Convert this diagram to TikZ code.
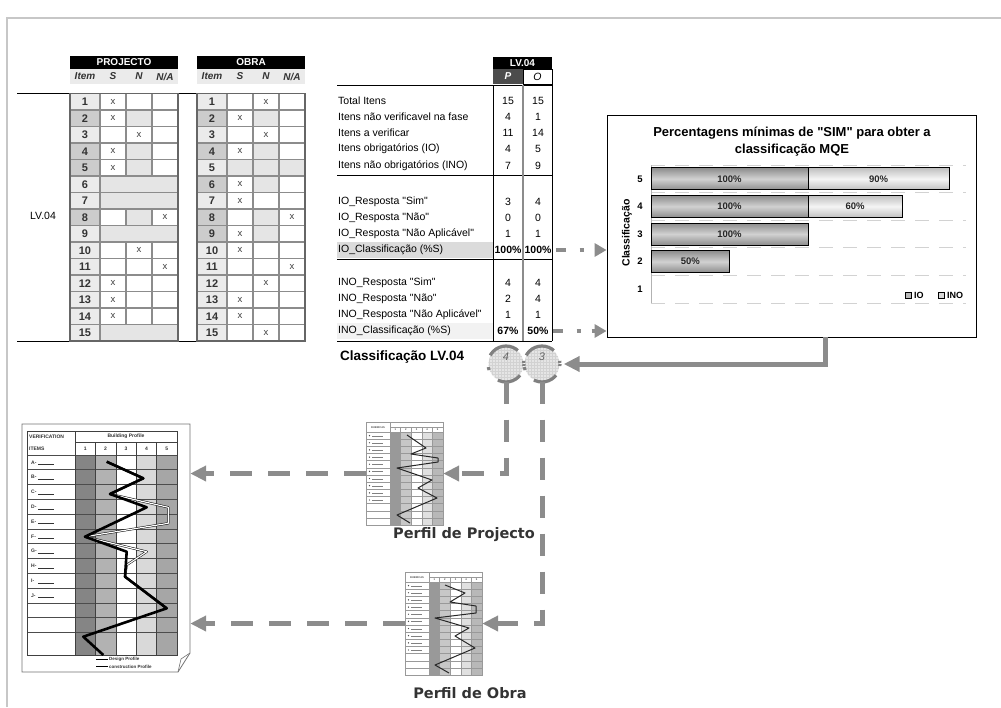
\documentclass[tikz,border=0pt]{standalone}
\usepackage{fontspec}
\setmainfont{Liberation Sans}
\newfontfamily\perfilfont{DejaVu Sans}
\usetikzlibrary{arrows.meta,patterns}

\definecolor{framegray}{gray}{0.78}
\definecolor{linegray}{gray}{0.55}
\definecolor{cellgray}{gray}{0.9}
\definecolor{itemlite}{gray}{0.92}
\definecolor{itemdark}{gray}{0.8}
\definecolor{conngray}{gray}{0.55}

\begin{document}
\begin{tikzpicture}[x=1pt,y=-1pt,
    txt/.style={inner sep=0pt, font=\fontsize{10.5}{12}\selectfont},
    headtext/.style={inner sep=0pt, text=white, font=\fontsize{10}{12}\selectfont\bfseries},
    colhead/.style={inner sep=0pt, text=black!80, font=\fontsize{10}{12}\selectfont\bfseries\itshape},
    cell/.style={draw=linegray, line width=1.8pt},
    itemnum/.style={inner sep=0pt, text=black!80, font=\fontsize{11}{12}\selectfont\bfseries},
    xmark/.style={inner sep=0pt, text=black!75, font=\fontsize{9.5}{11}\selectfont},
    boldnum/.style={inner sep=0pt, font=\fontsize{10.5}{12}\selectfont\bfseries},
    circ/.style={circle, minimum size=35pt, inner sep=0pt, fill=gray!20, postaction={pattern=grid, pattern color=gray!35}},
    ring/.style={draw=black!50, line width=3.2pt, dash pattern=on 2pt off 10.2pt on 24.4pt off 13.7pt on 3pt off 12.2pt on 32.1pt off 12.2pt},
    ringnum/.style={inner sep=0pt, text=black!60, font=\fontsize{11}{12}\selectfont\itshape},
    grid/.style={draw=gray!35, line width=0.8pt, dash pattern=on 14pt off 10pt},
    catlab/.style={inner sep=0pt, font=\fontsize{9.5}{11}\selectfont\bfseries},
    barlab/.style={inner sep=0pt, font=\fontsize{9.5}{11}\selectfont\bfseries, text=black!85},
    iobar/.style={draw=black, line width=0.7pt, top color=black!45, bottom color=black!45, middle color=black!18},
    inobar/.style={draw=black, line width=0.7pt, top color=black!25, bottom color=black!25, middle color=black!4},
    dashconn/.style={draw=conngray, line width=5pt, dash pattern=on 22pt off 16pt, -{Triangle[length=16pt,width=15pt]}},
    dotconn/.style={draw=conngray, line width=4pt, dash pattern=on 10pt off 14pt on 4pt off 11pt, -{Triangle[length=12pt,width=13pt]}},
    solidconn/.style={draw=conngray, line width=5pt, -{Triangle[length=16pt,width=15pt]}},
    imgbox/.style={inner sep=0pt},
    tinytext/.style={inner sep=0pt, font=\fontsize{5}{5}\selectfont\bfseries, text=black!80},
    microtext/.style={inner sep=0pt, font=\fontsize{2.6}{3}\selectfont\bfseries, text=black!70},
    perfil/.style={inner sep=0pt, text=black!80, font=\perfilfont\fontsize{14.5}{16}\selectfont\bfseries}
  ]
  \useasboundingbox (0,0) rectangle (1001,707);
  \draw[framegray, line width=1.5pt] (7,707) -- (7,18) -- (1001,18);

  % check lists
  \draw[line width=1pt] (17,93) -- (306,93);
  \draw[line width=1.8pt] (17,341.5) -- (306,341.5);
  \node[txt] (lv) at (43,216) {LV.04};
  \foreach \t/\lab in {0/PROJECTO, 127/OBRA} {
    \fill[black] (\t+70,56) rectangle (\t+178,69);
    \node[headtext] (head-\lab) at (\t+124,62.5) {\lab};
    \fill[itemlite] (\t+70,69) rectangle (\t+178,84);
    \node[colhead] (item-\lab) at (\t+85,76.5) {Item};
    \node[colhead] (s-\lab) at (\t+113,76.5) {S};
    \node[colhead] (n-\lab) at (\t+139,76.5) {N};
    \node[colhead] (na-\lab) at (\t+165,76.5) {N/A};
    \foreach \r in {1,...,15} {
      \filldraw[cell, fill=itemlite] (\t+70,77+16.5*\r) rectangle ++(30,16.5);
      \foreach \c in {0,1,2}
        \filldraw[cell, fill=white] (\t+100+26*\c,77+16.5*\r) rectangle ++(26,16.5);
    }
  }
  \foreach \t/\r in {0/2,0/4,0/5,0/8,127/2,127/4,127/6,127/8,127/9}
    \filldraw[cell, fill=itemdark] (\t+70,77+16.5*\r) rectangle ++(30,16.5);
  \foreach \t/\r/\c in {0/2/1,0/4/1,0/5/1,0/8/1,127/2/1,127/4/1,127/5/0,127/5/1,127/5/2,127/6/1,127/8/1,127/9/1}
    \filldraw[cell, fill=cellgray] (\t+100+26*\c,77+16.5*\r) rectangle ++(26,16.5);
  \foreach \r in {6,7,9,15}
    \filldraw[cell, fill=cellgray] (100,77+16.5*\r) rectangle ++(78,16.5);
  \foreach \t in {0,127} {
    \draw[black!60, line width=1.5pt] (\t+70,93.5) rectangle (\t+178,341);
    \foreach \r in {1,...,15}
      \node[itemnum] (nr\t-\r) at (\t+85,85.25+16.5*\r) {\r};
  }
  \foreach \t/\r/\c in {0/1/0,0/2/0,0/3/1,0/4/0,0/5/0,0/8/2,0/10/1,0/11/2,0/12/0,0/13/0,0/14/0,
      127/1/1,127/2/0,127/3/1,127/4/0,127/6/0,127/7/0,127/8/2,127/9/0,127/10/0,127/11/2,127/12/1,127/13/0,127/14/0,127/15/1}
    \node[xmark] (x\t-\r) at (\t+113+26*\c,85.25+16.5*\r) {x};

  % LV.04 summary
  \fill[black] (493,57) rectangle (552,69);
  \node[headtext] (lvhead) at (522.5,63) {LV.04};
  \fill[black!70] (493,69) rectangle (523,84);
  \node[colhead, text=white] (colP) at (508,76.5) {P};
  \draw (523,69) rectangle (552,84);
  \node[txt, font=\fontsize{10.5}{12}\selectfont\itshape] (colO) at (537.5,76.5) {O};
  \fill[gray!28] (337,242) rectangle (493,258);
  \fill[gray!10] (337,323) rectangle (493,339);
  \foreach \y in {85,175,259,341}
    \draw[line width=0.8pt] (337,\y) -- (552,\y);
  \draw[line width=0.8pt] (493,85) -- (493,341);
  \draw[linegray, line width=1.8pt] (523,85) -- (523,341);
  \draw[line width=0.8pt] (552,85) -- (552,341);
  \foreach \y/\lab/\p/\o in {101/Total Itens/15/15,
      117/Itens não verificavel na fase/4/1,
      133/Itens a verificar/11/14,
      149/Itens obrigatórios (IO)/4/5,
      166/Itens não obrigatórios (INO)/7/9,
      202/IO\_Resposta \textquotedbl Sim\textquotedbl/3/4,
      218/IO\_Resposta \textquotedbl Não\textquotedbl/0/0,
      234/IO\_Resposta \textquotedbl Não Aplicável\textquotedbl/1/1,
      283/INO\_Resposta \textquotedbl Sim\textquotedbl/4/4,
      299/INO\_Resposta \textquotedbl Não\textquotedbl/2/4,
      315/INO\_Resposta \textquotedbl Não Aplicável\textquotedbl/1/1} {
    \node[txt, anchor=west] (lab\y) at (338,\y) {\lab};
    \node[txt] (p\y) at (508,\y) {\p};
    \node[txt] (o\y) at (538,\y) {\o};
  }
  \node[txt, anchor=west] (iolab) at (338,250) {IO\_Classificação (\%S)};
  \node[boldnum] (ioP) at (508,250) {100\%};
  \node[boldnum] (ioO) at (538,250) {100\%};
  \node[txt, anchor=west] (inolab) at (338,331) {INO\_Classificação (\%S)};
  \node[boldnum] (inoP) at (508,331) {67\%};
  \node[boldnum] (inoO) at (538,331) {50\%};
  \node[inner sep=0pt, anchor=west, font=\fontsize{13.5}{15}\selectfont\bfseries] (classlv) at (340,357) {Classificação LV.04};

  \node[circ] (c4) at (506,364) {};
  \node[circ] (c3) at (542,364) {};
  \draw[ring] (c4.center) circle (18);
  \draw[ring] (c3.center) circle (18);
  \node[ringnum] (n4) at (506,357) {4};
  \node[ringnum] (n3) at (542,357) {3};

  % chart
  \node[draw=black, line width=0.8pt, minimum width=369pt, minimum height=222pt, inner sep=0pt] (chart) at (791.5,226) {};
  \node[inner sep=0pt, align=center, font=\fontsize{13}{17}\selectfont\bfseries] (title) at (792,141.5)
    {Percentagens mínimas de \textquotedbl SIM\textquotedbl{} para obter a\\classificação MQE};
  \foreach \y in {165,192.6,220.2,247.8,275.4,303}
    \draw[grid] (651,\y) -- (966,\y);
  \draw[gray!60, line width=0.8pt] (651,165) -- (651,303);
  \foreach \n/\y in {5/178.8,4/206.4,3/234,2/261.6,1/289.2}
    \node[catlab] (cat\n) at (640,\y) {\n};
  \node[catlab, rotate=90, font=\fontsize{10.5}{12}\selectfont\bfseries] (ytitle) at (627,233) {Classificação};
  \foreach \y/\p in {178.8/100,206.4/100,234/100,261.6/50} {
    \draw[iobar] (651,\y-11) rectangle (651+1.57*\p,\y+11);
    \node[barlab] (io\y) at (651+0.785*\p,\y) {\p\%};
  }
  \foreach \y/\p in {178.8/90,206.4/60} {
    \draw[inobar] (808,\y-11) rectangle (808+1.57*\p,\y+11);
    \node[barlab] (ino\y) at (808+0.785*\p,\y) {\p\%};
  }
  \draw[fill=gray!55, line width=0.6pt] (905,292) rectangle ++(6,6);
  \node[catlab, anchor=west, font=\fontsize{9}{10}\selectfont\bfseries] (legio) at (914,295) {IO};
  \draw[fill=gray!30, line width=0.6pt] (938,292) rectangle ++(6,6);
  \node[catlab, anchor=west, font=\fontsize{9}{10}\selectfont\bfseries] (legino) at (947,295) {INO};

  % big profile sheet
  \node[imgbox, minimum width=168pt, minimum height=248pt] (big) at (106,548) {};
  \filldraw[draw=black!55, fill=white, line width=0.8pt] (22,424) -- (190,424) -- (190,653) -- (178,672) -- (22,672) -- cycle;
  \draw[black!55, line width=0.6pt] (190,653) -- (181,659) -- (178,672);
  \foreach \x/\s in {75/48,95.4/30,115.8/0,136.2/15,156.6/35}
    \fill[black!\s] (\x,455) rectangle ++(20.4,200);
  \foreach \k in {0,...,12}
    \draw[black!70, line width=0.7pt] (27,455+14.8*\k) -- (177,455+14.8*\k);
  \foreach \x in {95.4,115.8,136.2,156.6}
    \draw[black!75, line width=0.6pt] (\x,442) -- (\x,655);
  \draw[black!75, line width=0.8pt] (27,431) rectangle (177,655);
  \draw[black!75, line width=0.6pt] (75,431) -- (75,655) (75,442) -- (177,442);
  \node[tinytext, anchor=west] (verif) at (29,436.5) {VERIFICATION};
  \node[tinytext, anchor=west] (items) at (29,448.5) {ITEMS};
  \node[tinytext] (bprof) at (126,436.5) {Building Profile};
  \foreach \k in {1,...,5}
    \node[tinytext] (bcol\k) at (64.8+20.4*\k,448.5) {\k};
  \foreach \l [count=\k] in {A,...,J} {
    \node[tinytext, anchor=west] (row\l) at (31,447.6+14.8*\k) {\l-};
    \draw[black!80, line width=0.5pt] (38,449.6+14.8*\k) -- (54,449.6+14.8*\k);
  }
  \draw[line width=0.5pt, double=white, double distance=1.2pt, line join=round]
    (106.7,461.7) -- (143.3,478.3) -- (110,494) -- (168.3,507.3) -- (168.3,523.3) -- (85,536.7)
    -- (146.7,551.7) -- (126.7,565) -- (125,576.7) -- (166.7,608.3);
  \draw[line width=2.6pt, line join=round]
    (106.7,461.7) -- (143.3,478.3) -- (110,494) -- (146.7,507.3) -- (85,536.7) -- (126.7,551.7)
    -- (125,576.7) -- (166.7,608.3) -- (83.3,636.7) -- (103.3,655);
  \draw[line width=1.2pt] (96,659.5) -- (108,659.5);
  \node[tinytext, anchor=west, font=\fontsize{4.5}{5}\selectfont\bfseries] (ldesign) at (109,659.5) {Design Profile};
  \draw[line width=0.4pt, double=white, double distance=0.6pt] (96,667) -- (108,667);
  \node[tinytext, anchor=west, font=\fontsize{4.5}{5}\selectfont\bfseries] (lconstr) at (109,667) {construction Profile};

  % small profiles
  \node[imgbox, minimum width=77pt, minimum height=103pt] (proj) at (404.5,473.5) {};
  \node[imgbox, minimum width=77pt, minimum height=103pt] (obra) at (443.5,623.5) {};
  \foreach \ox/\oy in {366/422,405/572} {
    \begin{scope}[shift={(\ox,\oy)}]
      \fill[white] (0,0) rectangle (77,103);
      \foreach \x/\s in {24/40,34.6/22,45.2/0,55.8/12,66.4/28}
        \fill[black!\s] (\x,10) rectangle ++(10.6,93);
      \foreach \k in {0,...,13}
        \draw[black!40, line width=0.3pt] (0,10+7.15*\k) -- (77,10+7.15*\k);
      \foreach \x in {34.6,45.2,55.8,66.4}
        \draw[black!40, line width=0.3pt] (\x,5) -- (\x,103);
      \draw[black!40, line width=0.4pt] (0,0) rectangle (77,103) (24,0) -- (24,103) (24,5) -- (77,5);
      \node[microtext] (rub\ox) at (12,5.5) {RUBRICAS};
      \foreach \k in {1,...,5}
        \node[microtext] (mc\ox-\k) at (18.7+10.6*\k,7.6) {\k};
      \foreach \k in {0,...,9} {
        \fill[black!70] (3.5,13.6+7.15*\k) circle (0.7);
        \draw[black!50, line width=0.4pt] (6,13.9+7.15*\k) -- (17,13.9+7.15*\k);
      }
    \end{scope}
  }
  \draw[shift={(366,422)}, line width=1pt, black!85, line join=round]
    (41,13) -- (60,26) -- (45,32) -- (72,36) -- (72,40) -- (31,46) -- (66,58) -- (52,66) -- (71,76) -- (31,93) -- (44,101);
  \draw[shift={(405,572)}, line width=1pt, black!85, line join=round]
    (40,13) -- (60,21) -- (45,30) -- (71,34) -- (71,41) -- (30,46) -- (64,56) -- (50,64) -- (70,76) -- (30,93) -- (44,101);
  \node[perfil] (lproj) at (464,535) {Perfil de Projecto};
  \node[perfil] (lobra) at (470,693) {Perfil de Obra};

  % connectors
  \draw[dotconn] ([xshift=4pt]ioO.east) -- (ioO.east -| chart.west);
  \draw[dotconn] ([xshift=4pt]inoO.east) -- (inoO.east -| chart.west);
  \draw[solidconn, shorten >=4pt] ([xshift=219pt]chart.south west) |- (c3.east);
  \draw[dashconn] (c4.south) |- (proj.east);
  \draw[dashconn] (c3.south) |- (obra.east);
  \draw[dashconn] (proj.west) -- (proj.west -| big.east);
  \draw[dashconn] (obra.west) -- (obra.west -| big.east);
\end{tikzpicture}
\end{document}
